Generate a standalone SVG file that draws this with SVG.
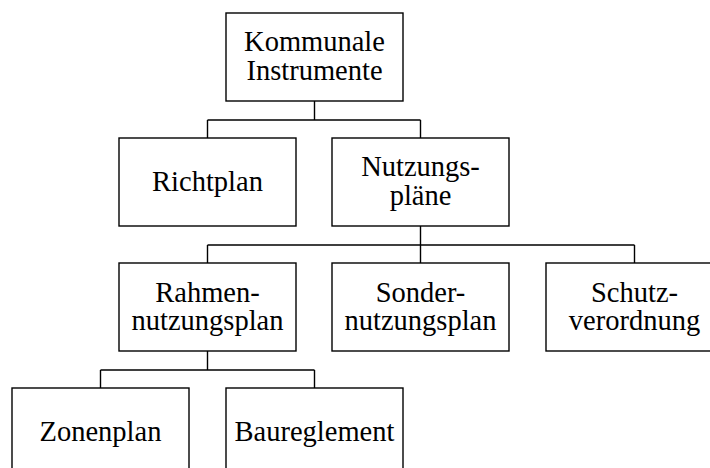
<svg xmlns="http://www.w3.org/2000/svg" width="710" height="468" viewBox="0 0 710 468">
<style>
rect{fill:#fff;stroke:#000;stroke-width:1.4}
.c path{fill:none;stroke:#000;stroke-width:1.4}
text{font-family:'Liberation Serif',Tinos,'Times New Roman',Times,'Noto Serif','DejaVu Serif',serif;font-size:28.5px;fill:#000;text-anchor:middle}
</style>
<rect x="0" y="0" width="710" height="468" style="stroke:none"/>
<g class="c" id="connectors">
<path d="M314.5 101V120M207.5 120H420.5M207.5 120V138M420.5 120V138"/>
<path d="M420.5 226V245M207.5 245H634.5M207.5 245V263M420.5 245V263M634.5 245V263"/>
<path d="M207.5 351V370M100.5 370H314.5M100.5 370V388M314.5 370V388"/>
</g>
<g id="kommunale">
<rect x="226" y="13" width="177" height="88"/>
<text x="314.5" y="51">Kommunale</text>
<text x="314.5" y="80">Instrumente</text>
</g>
<g id="richtplan">
<rect x="119" y="138" width="177" height="88"/>
<text x="207.5" y="190.6">Richtplan</text>
</g>
<g id="nutzungsplaene">
<rect x="332" y="138" width="177" height="88"/>
<text x="420.5" y="176">Nutzungs-</text>
<text x="420.5" y="204.5">pläne</text>
</g>
<g id="rahmen">
<rect x="119" y="263" width="177" height="88"/>
<text x="207.5" y="301.5">Rahmen-</text>
<text x="207.5" y="330">nutzungsplan</text>
</g>
<g id="sonder">
<rect x="332" y="263" width="177" height="88"/>
<text x="420.5" y="301.5">Sonder-</text>
<text x="420.5" y="330">nutzungsplan</text>
</g>
<g id="schutz">
<rect x="546" y="263" width="177" height="88"/>
<text x="634.5" y="301.5">Schutz-</text>
<text x="634.5" y="330">verordnung</text>
</g>
<g id="zonenplan">
<rect x="12" y="388" width="177" height="88"/>
<text x="100.5" y="440.5">Zonenplan</text>
</g>
<g id="baureglement">
<rect x="226" y="388" width="177" height="88"/>
<text x="314.5" y="440.5">Baureglement</text>
</g>
</svg>
